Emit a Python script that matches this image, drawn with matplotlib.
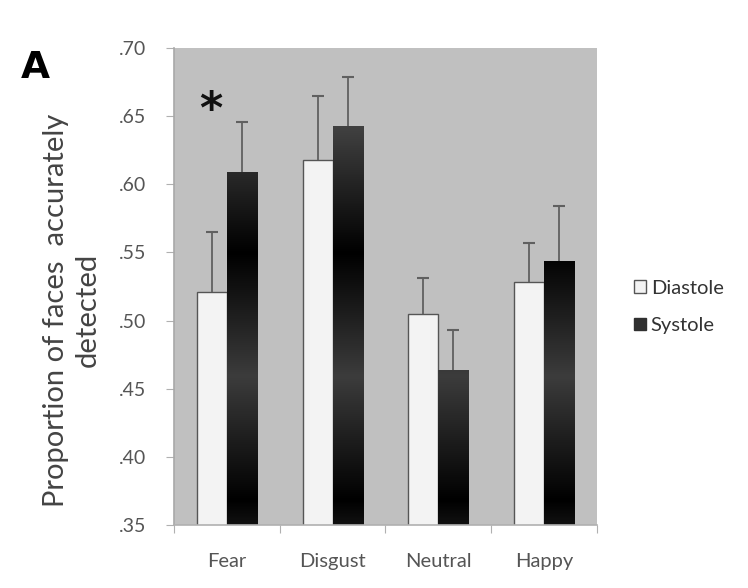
import numpy as np
import matplotlib
matplotlib.use("Agg")
import matplotlib.pyplot as plt
from matplotlib.colors import LinearSegmentedColormap
from matplotlib.patches import Patch

plt.rcParams['font.family'] = ['Lato', 'DejaVu Sans']

# data
emotions = ['Fear', 'Disgust', 'Neutral', 'Happy']
diastole = [0.521, 0.618, 0.505, 0.528]
diastole_err = [0.044, 0.047, 0.026, 0.029]
systole = [0.609, 0.643, 0.464, 0.544]
systole_err = [0.037, 0.036, 0.029, 0.040]
y_ticks = [0.35, 0.40, 0.45, 0.50, 0.55, 0.60, 0.65, 0.70]
y_labels = ['.35', '.40', '.45', '.50', '.55', '.60', '.65', '.70']

fig = plt.figure(figsize=(7.48, 5.88), dpi=100)
ax = fig.add_axes([0.2326, 0.1071, 0.5655, 0.8113])
ax.set_facecolor('#c0c0c0')

x = np.arange(len(emotions))
w = 0.284

bars_d = ax.bar(x - w / 2, diastole, w, bottom=0, color='#f3f3f3',
                edgecolor='#555555', linewidth=1.0, zorder=2)
bars_s = ax.bar(x + w / 2, systole, w, bottom=0, color='none',
                edgecolor='none', zorder=2)

# dark banded gradient on the systole bars (absolute in y, as in the source)
dark = LinearSegmentedColormap.from_list('dark', [
    (0.00, '#111111'), (0.05, '#000000'), (0.31, '#3c3c3c'),
    (0.57, '#000000'), (0.83, '#404040'), (1.00, '#404040')])
grad = np.linspace(0, 1, 256).reshape(-1, 1)
for b in bars_s:
    im = ax.imshow(grad, cmap=dark, aspect='auto', origin='lower',
                   extent=[b.get_x(), b.get_x() + b.get_width(), 0.35, 0.70],
                   zorder=2.1, interpolation='bilinear')
    im.set_clip_path(b)

# upper error bars only
for xs, vals, errs in [(x - w / 2, diastole, diastole_err),
                       (x + w / 2, systole, systole_err)]:
    _, caps, _ = ax.errorbar(xs, vals, yerr=[np.zeros(4), errs], fmt='none',
                             ecolor='#606060', elinewidth=1.3, capsize=4,
                             capthick=1.5, zorder=3)
    caps[0].set_visible(False)

ax.text(x[0] - w * 0.55, 0.654, '*', fontsize=32, fontweight='bold',
        ha='center', va='center', color='#111111', family='DejaVu Sans')

ax.set_xlim(-0.5, 3.5)
ax.set_ylim(0.35, 0.70)
ax.set_yticks(y_ticks)
ax.set_yticklabels(y_labels, color='#555555', fontsize=14)
ax.set_xticks(np.arange(-0.5, 4.0, 1.0))
ax.set_xticklabels([])
ax.set_xticks(x, minor=True)
ax.set_xticklabels(emotions, minor=True, color='#555555', fontsize=14.5)
ax.tick_params(axis='x', which='minor', length=0, pad=20)
ax.tick_params(axis='x', which='major', length=6, color='#b0b0b0')
ax.tick_params(axis='y', length=6, color='#b0b0b0', pad=14)

for side in ['top', 'right']:
    ax.spines[side].set_visible(False)
ax.spines['left'].set_color('#a8a8a8')
ax.spines['bottom'].set_color('#b0b0b0')
ax.spines['left'].set_linewidth(1.2)
ax.spines['bottom'].set_linewidth(1.2)

ax.set_ylabel('Proportion of faces  accurately\ndetected', fontsize=21,
              color='#444444', linespacing=1.3)
ax.yaxis.set_label_coords(-0.172, 0.45)

fig.text(0.047, 0.885, 'A', fontsize=27, fontweight='bold', color='black',
         family='DejaVu Sans', ha='center', va='center')

handles = [Patch(facecolor='#f3f3f3', edgecolor='#555555', label='Diastole'),
           Patch(facecolor='#303030', edgecolor='#303030', label='Systole')]
fig.legend(handles=handles, loc='center left', bbox_to_anchor=(0.823, 0.478),
           frameon=False, fontsize=14.5, handlelength=0.6, handleheight=0.6,
           handletextpad=0.25, labelspacing=1.0, labelcolor='#333333')

fig.savefig('out.png', dpi=100)
